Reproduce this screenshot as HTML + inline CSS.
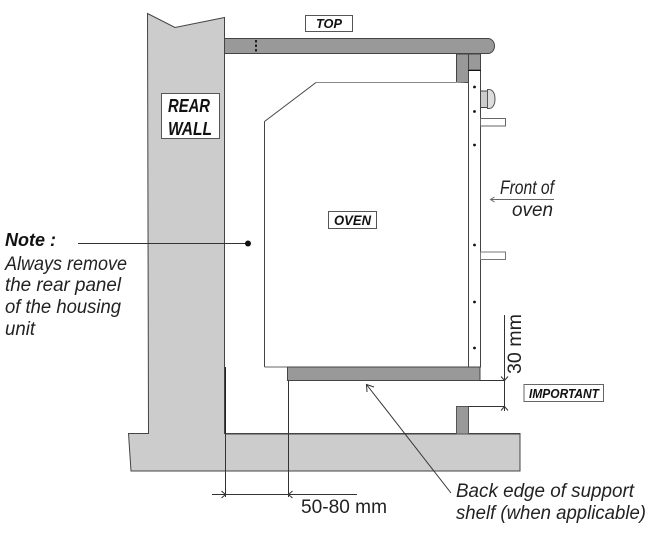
<!DOCTYPE html>
<html>
<head>
<meta charset="utf-8">
<style>
html,body{margin:0;padding:0;background:#fff;}
svg{display:block;}
text{font-family:"Liberation Sans",sans-serif;fill:#111;}
.i{font-style:italic;font-size:19px;fill:#222;}
.b{font-style:italic;font-weight:bold;}
.r{font-size:19px;fill:#222;}
</style>
</head>
<body>
<svg width="665" height="543" viewBox="0 0 665 543" xmlns="http://www.w3.org/2000/svg">
<!-- top bar -->
<path d="M224.5 38.5H488a6.5 7.5 0 0 1 0 15H224.5Z" fill="#999" stroke="#444" stroke-width="1"/>
<line x1="256" y1="40" x2="256" y2="53" stroke="#222" stroke-width="2" stroke-dasharray="2.5 2"/>
<!-- wall and base -->
<path d="M147.5 13.5L175 27.5L224.5 17.5V433.5H520V471H131L128.5 433.5H148.5Z" fill="#ccc" stroke="#444" stroke-width="1"/>
<line x1="225.5" y1="367" x2="225.5" y2="434" stroke="#222" stroke-width="1"/>
<line x1="225" y1="434" x2="520" y2="434" stroke="#444" stroke-width="1"/>
<!-- upper blocks -->
<rect x="456.5" y="54" width="12" height="28.5" fill="#999" stroke="#444"/>
<rect x="468.5" y="54" width="12" height="16" fill="#999" stroke="#444"/>
<!-- oven -->
<path d="M316.5 82.5H456L468 83V367H265V122Z" fill="#fff"/>
<line x1="264.5" y1="121.5" x2="264.5" y2="367" stroke="#444"/>
<line x1="264.5" y1="121.5" x2="316" y2="82.5" stroke="#444"/>
<line x1="316" y1="82.5" x2="456" y2="82.5" stroke="#888"/>
<line x1="264.5" y1="367" x2="288" y2="367" stroke="#666"/>
<!-- door -->
<rect x="468.5" y="70" width="12" height="297" fill="#fff" stroke="#444"/>
<line x1="468" y1="70.5" x2="481" y2="70.5" stroke="#111"/>
<g fill="#111">
<circle cx="474.500" cy="87" r="1.400"/>
<circle cx="474.500" cy="111.500" r="1.400"/>
<circle cx="474.500" cy="145" r="1.400"/>
<circle cx="474.500" cy="245" r="1.400"/>
<circle cx="474.500" cy="302" r="1.400"/>
<circle cx="474.500" cy="348" r="1.400"/>
</g>
<!-- knob -->
<rect x="480.500" y="91" width="7" height="16.500" fill="#ccc" stroke="#444"/>
<path d="M487.500 89.500H489C493 89.500 495 94 495 99C495 104 493 108.500 489 108.500H487.500Z" fill="#ddd" stroke="#555"/>
<!-- handles -->
<rect x="480.500" y="118.500" width="25" height="7.500" fill="#fff" stroke="#666"/>
<rect x="480.500" y="252" width="25" height="7.500" fill="#fff" stroke="#777"/>
<!-- shelf -->
<rect x="287.500" y="367" width="192.500" height="13.500" fill="#999" stroke="#444"/>
<!-- small riser -->
<rect x="456.500" y="406.500" width="12" height="27.500" fill="#999" stroke="#555"/>
<g stroke="#333" stroke-width="1" fill="none">
<!-- dim 30 mm -->
<line x1="480" y1="380.500" x2="505" y2="380.500"/>
<line x1="468" y1="406.500" x2="505" y2="406.500"/>
<line x1="504.500" y1="315" x2="504.500" y2="411"/>
<path d="M501 376.500L504.500 380.500L508 376.500"/>
<path d="M501 410.500L504.500 406.500L508 410.500"/>
<!-- dim 50-80 -->
<line x1="225.500" y1="434" x2="225.500" y2="497"/>
<line x1="288.500" y1="381" x2="288.500" y2="497"/>
<line x1="212" y1="494.500" x2="357" y2="494.500"/>
<path d="M221.500 491L225.500 494.500L221.500 498"/>
<path d="M292.500 491L288.500 494.500L292.500 498"/>
<!-- note leader -->
<line x1="78" y1="243.500" x2="247" y2="243.500"/>
<!-- back edge leader -->
<line x1="451" y1="493" x2="366.500" y2="384.500"/>
<path d="M367 392L366.500 384.500L374 387"/>
<!-- front of oven -->
<line x1="491" y1="199.500" x2="554" y2="199.500" stroke="#666"/>
<path d="M494.500 197L490.500 199.500L494.500 202" stroke="#666"/>
</g>
<circle cx="248" cy="243.500" r="3" fill="#111"/>
<!-- boxes -->
<rect x="305.500" y="15.500" width="47" height="16" fill="#fff" stroke="#555"/>
<text class="b" x="329" y="28" font-size="13" text-anchor="middle" textLength="26" lengthAdjust="spacingAndGlyphs">TOP</text>
<rect x="161.500" y="93.500" width="58" height="45" fill="#fff" stroke="#555"/>
<text class="b" x="168" y="112" font-size="18" textLength="42" lengthAdjust="spacingAndGlyphs">REAR</text>
<text class="b" x="168" y="135" font-size="18" textLength="44" lengthAdjust="spacingAndGlyphs">WALL</text>
<rect x="328.500" y="211.500" width="48" height="17" fill="#fff" stroke="#555"/>
<text class="b" x="334" y="225" font-size="13.500" textLength="37" lengthAdjust="spacingAndGlyphs">OVEN</text>
<rect x="524" y="384.500" width="79.500" height="17" fill="#fff" stroke="#666"/>
<text class="b" x="529" y="398" font-size="13" textLength="70" lengthAdjust="spacingAndGlyphs">IMPORTANT</text>
<!-- labels -->
<text class="b" x="5" y="246" font-size="18" textLength="51" lengthAdjust="spacingAndGlyphs">Note :</text>
<text class="i" x="5" y="270" textLength="122" lengthAdjust="spacingAndGlyphs">Always remove</text>
<text class="i" x="5" y="291" textLength="116" lengthAdjust="spacingAndGlyphs">the rear panel</text>
<text class="i" x="5" y="313" textLength="116" lengthAdjust="spacingAndGlyphs">of the housing</text>
<text class="i" x="5" y="335" textLength="30" lengthAdjust="spacingAndGlyphs">unit</text>
<text class="i" x="500" y="194" textLength="54" lengthAdjust="spacingAndGlyphs">Front of</text>
<text class="i" x="512" y="216" textLength="41" lengthAdjust="spacingAndGlyphs">oven</text>
<text class="i" x="456" y="497" textLength="178" lengthAdjust="spacingAndGlyphs">Back edge of support</text>
<text class="i" x="456" y="519" textLength="190" lengthAdjust="spacingAndGlyphs">shelf (when applicable)</text>
<text class="r" x="301" y="513" textLength="86" lengthAdjust="spacingAndGlyphs">50-80 mm</text>
<text class="r" transform="translate(521 374) rotate(-90)" x="0" y="0" textLength="60" lengthAdjust="spacingAndGlyphs">30 mm</text>
</svg>
</body>
</html>
